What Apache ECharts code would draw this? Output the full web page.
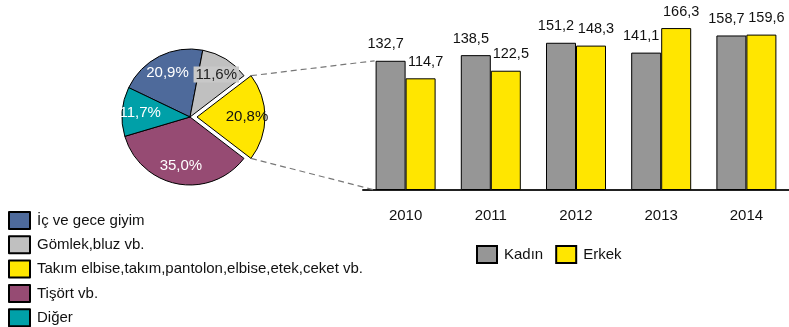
<!DOCTYPE html>
<html>
<head>
<meta charset="utf-8">
<script src="https://cdn.jsdelivr.net/npm/echarts@6/dist/echarts.min.js"></script>
<style>
html,body{margin:0;padding:0;background:#fff;}
#chart{width:789px;height:327px;}
</style>
</head>
<body>
<div id="chart"></div>
<script>
// ---- data ----
const pieNames = ['İç ve gece giyim', 'Gömlek,bluz vb.', 'Takım elbise,takım,pantolon,elbise,etek,ceket vb.', 'Tişört vb.', 'Diğer'];
const pieValues = [20.9, 11.6, 20.8, 35.0, 11.7];
const years = ['2010', '2011', '2012', '2013', '2014'];
const kadin = [132.7, 138.5, 151.2, 141.1, 158.7];
const erkek = [114.7, 122.5, 148.3, 166.3, 159.6];
const barSeriesNames = ['Kadın', 'Erkek'];

// ---- styles ----
const FONT = 'Liberation Sans, Arial, sans-serif';
const pieColors = ['#4E6A9B', '#C0C0C0', '#FFE600', '#964B73', '#00A0A8'];
const pieLabelColors = ['#fff', '#222', '#111', '#fff', '#fff'];
const explodedIndex = 2;
const PIE_C = [190, 117];
const PIE_R = 68;
const PIE_START = 154.4;
const PIE_OFFSET = 7;

const fmt = v => v.toFixed(1).replace('.', ',');

const pieData = pieNames.map((n, i) => ({
  name: n,
  value: pieValues[i],
  selected: i === explodedIndex,
  itemStyle: { color: pieColors[i] }
}));
const pieLabelData = pieNames.map((n, i) => ({
  name: n,
  value: pieValues[i],
  selected: i === explodedIndex,
  itemStyle: { color: 'rgba(0,0,0,0)', borderWidth: 0 },
  label: Object.assign({ color: pieLabelColors[i] },
    i === 1 ? { backgroundColor: '#C8C8C8', padding: [1, 2, 0, 2] } : {})
}));

const chart = echarts.init(document.getElementById('chart'));
const option = {
  animation: false,
  textStyle: { fontFamily: FONT },
  grid: { left: 363, top: 5, width: 430, height: 185 },
  xAxis: {
    type: 'category', data: years,
    axisLine: { lineStyle: { color: '#222', width: 2 } },
    axisTick: { show: false },
    axisLabel: { color: '#111', fontSize: 15, fontFamily: FONT, margin: 18 }
  },
  yAxis: { type: 'value', min: 0, max: 190, show: false, splitLine: { show: false } },
  legend: [
    {
      orient: 'vertical', left: 8, top: 211, height: 140, padding: 0,
      icon: 'rect', itemWidth: 21, itemHeight: 17, itemGap: 5.3,
      data: pieNames,
      textStyle: { fontSize: 15, fontFamily: FONT, color: '#111', lineHeight: 17, padding: [0, 0, 0, 2] },
      selectedMode: false
    },
    {
      orient: 'horizontal', left: 476, top: 245, padding: 0,
      icon: 'rect', itemWidth: 20, itemHeight: 17, itemGap: 12,
      data: barSeriesNames,
      textStyle: { fontSize: 15, fontFamily: FONT, color: '#111', padding: [0, 0, 0, 2] },
      selectedMode: false
    }
  ],
  series: [
    {
      type: 'pie', name: 'pie', center: PIE_C, radius: PIE_R,
      startAngle: PIE_START, clockwise: true,
      selectedMode: 'single', selectedOffset: PIE_OFFSET,
      itemStyle: { borderColor: '#000', borderWidth: 1 },
      label: { show: false }, labelLine: { show: false },
      emphasis: { disabled: true },
      data: pieData
    },
    {
      type: 'pie', name: 'pieLabels', center: PIE_C, radius: [26, PIE_R],
      startAngle: PIE_START, clockwise: true, silent: true,
      selectedMode: 'single', selectedOffset: PIE_OFFSET,
      label: { show: true, position: 'inside', fontSize: 15, fontFamily: FONT,
        formatter: p => fmt(p.value) + '%' },
      labelLine: { show: false },
      emphasis: { disabled: true },
      data: pieLabelData
    },
    {
      type: 'bar', name: barSeriesNames[0], data: kadin,
      barWidth: 30, barGap: '0%',
      itemStyle: { color: '#969696', borderColor: '#000', borderWidth: 1 },
      label: { show: true, position: 'top', distance: 9, offset: [-5, 0],
        fontSize: 14.5, fontFamily: FONT, color: '#111', formatter: p => fmt(p.value) },
      emphasis: { disabled: true }
    },
    {
      type: 'bar', name: barSeriesNames[1], data: erkek,
      barWidth: 30, barGap: '0%',
      itemStyle: { color: '#FFE600', borderColor: '#000', borderWidth: 1 },
      label: { show: true, position: 'top', distance: 9, offset: [5, 0],
        fontSize: 14.5, fontFamily: FONT, color: '#111', formatter: p => fmt(p.value) },
      emphasis: { disabled: true }
    }
  ]
};
chart.setOption(option);

// connector lines from exploded slice to the first bar group
(function () {
  let start = PIE_START;
  const total = pieValues.reduce((a, b) => a + b, 0);
  for (let i = 0; i < explodedIndex; i++) start -= pieValues[i] / total * 360;
  const end = start - pieValues[explodedIndex] / total * 360;
  const mid = (start + end) / 2;
  const rad = d => d * Math.PI / 180;
  const ox = PIE_C[0] + PIE_OFFSET * Math.cos(rad(mid));
  const oy = PIE_C[1] - PIE_OFFSET * Math.sin(rad(mid));
  const pTop = [ox + PIE_R * Math.cos(rad(start)), oy - PIE_R * Math.sin(rad(start))];
  const pBot = [ox + PIE_R * Math.cos(rad(end)), oy - PIE_R * Math.sin(rad(end))];
  const barTop = chart.convertToPixel({ gridIndex: 0 }, [0, kadin[0]]);
  const barBase = chart.convertToPixel({ gridIndex: 0 }, [0, 0]);
  const leftX = barTop[0] - 31;
  const ls = { stroke: '#777', lineWidth: 1.2, lineDash: [6, 4] };
  chart.setOption({
    graphic: [
      { type: 'line', silent: true, shape: { x1: pTop[0], y1: pTop[1], x2: leftX, y2: barTop[1] }, style: ls, z: 10 },
      { type: 'line', silent: true, shape: { x1: pBot[0], y1: pBot[1], x2: leftX, y2: barBase[1] }, style: ls, z: 10 }
    ]
  });
})();
</script>
</body>
</html>
